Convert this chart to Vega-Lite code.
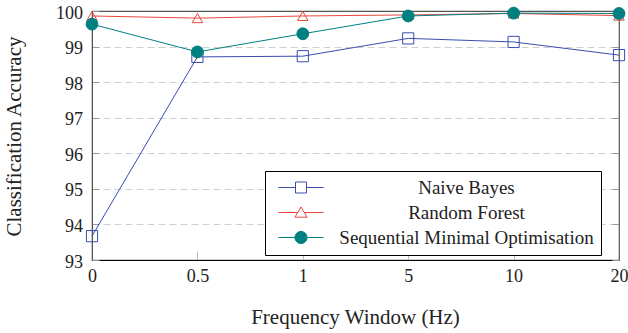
{
  "$schema": "https://vega.github.io/schema/vega-lite/v6.json",
  "width": 527,
  "height": 249,
  "autosize": {"type": "none"},
  "padding": {"left": 92, "top": 11, "right": 9, "bottom": 73},
  "background": "white",
  "config": {
    "font": "Liberation Serif",
    "view": {"stroke": "#555", "strokeWidth": 1.2},
    "axis": {
      "labelFont": "Liberation Serif",
      "titleFont": "Liberation Serif",
      "labelColor": "#222",
      "titleColor": "#222",
      "titleFontWeight": "normal",
      "labelFontSize": 18,
      "titleFontSize": 21
    }
  },
  "data": {
    "values": [
      {"window": "0", "classifier": "Naive Bayes", "accuracy": 93.67},
      {"window": "0.5", "classifier": "Naive Bayes", "accuracy": 98.71},
      {"window": "1", "classifier": "Naive Bayes", "accuracy": 98.73},
      {"window": "5", "classifier": "Naive Bayes", "accuracy": 99.23},
      {"window": "10", "classifier": "Naive Bayes", "accuracy": 99.13},
      {"window": "20", "classifier": "Naive Bayes", "accuracy": 98.76},
      {"window": "0", "classifier": "Random Forest", "accuracy": 99.86},
      {"window": "0.5", "classifier": "Random Forest", "accuracy": 99.8},
      {"window": "1", "classifier": "Random Forest", "accuracy": 99.86},
      {"window": "5", "classifier": "Random Forest", "accuracy": 99.89},
      {"window": "10", "classifier": "Random Forest", "accuracy": 99.93},
      {"window": "20", "classifier": "Random Forest", "accuracy": 99.87},
      {"window": "0", "classifier": "Sequential Minimal Optimisation", "accuracy": 99.63},
      {"window": "0.5", "classifier": "Sequential Minimal Optimisation", "accuracy": 98.85},
      {"window": "1", "classifier": "Sequential Minimal Optimisation", "accuracy": 99.36},
      {"window": "5", "classifier": "Sequential Minimal Optimisation", "accuracy": 99.86},
      {"window": "10", "classifier": "Sequential Minimal Optimisation", "accuracy": 99.94},
      {"window": "20", "classifier": "Sequential Minimal Optimisation", "accuracy": 99.93}
    ]
  },
  "encoding": {
    "x": {
      "field": "window",
      "type": "ordinal",
      "sort": ["0", "0.5", "1", "5", "10", "20"],
      "scale": {"type": "point", "padding": 0},
      "axis": {
        "title": "Frequency Window (Hz)",
        "labelAngle": 0,
        "domainColor": "#000",
        "tickColor": "#bbb",
        "tickSize": -9,
        "labelPadding": 16,
        "titleX": 263,
        "titleY": 63,
        "titleBaseline": "alphabetic",
        "titleAlign": "center",
        "grid": false
      }
    },
    "y": {
      "field": "accuracy",
      "type": "quantitative",
      "scale": {"domain": [93, 100], "nice": false, "zero": false}
    },
    "color": {
      "field": "classifier",
      "type": "nominal",
      "scale": {
        "domain": ["Naive Bayes", "Random Forest", "Sequential Minimal Optimisation"],
        "range": ["#3b4cb0", "#e8473d", "#008080"]
      },
      "legend": {
        "title": null,
        "orient": "none",
        "legendX": 173,
        "legendY": 160,
        "direction": "vertical",
        "padding": 7,
        "strokeColor": "#000",
        "fillColor": "white",
        "cornerRadius": 0,
        "symbolSize": 121,
        "symbolOffset": 19.5,
        "symbolStrokeWidth": 1,
        "labelFont": "Liberation Serif",
        "labelFontSize": 19,
        "labelColor": "#222",
        "labelAlign": "center",
        "labelOffset": 156,
        "labelLimit": 400,
        "rowPadding": 5,
        "encode": {
          "symbols": {
            "update": {
              "shape": {"signal": "datum.value === 'Naive Bayes' ? 'M-4.1,0H-1M1,0H4.1M-1,-1H1V1H-1Z' : datum.value === 'Random Forest' ? 'M-4.1,0H-0.6M0.6,0H4.1M0,-1L1.1,0.85H-1.1Z' : 'M-4.1,0H4.1M1.1,0A1.1,1.1 0 1,1 -1.1,0A1.1,1.1 0 1,1 1.1,0Z'"},
              "fill": {"signal": "datum.value === 'Sequential Minimal Optimisation' ? '#008080' : 'transparent'"},
              "strokeWidth": {"value": 1},
              "opacity": {"value": 1}
            }
          }
        }
      }
    }
  },
  "layer": [
    {
      "mark": {"type": "line", "strokeWidth": 1},
      "encoding": {
        "y": {
          "field": "accuracy",
          "type": "quantitative",
          "axis": {
            "title": "Classification Accuracy",
            "values": [93, 94, 95, 96, 97, 98, 99, 100],
            "domainColor": "#555",
            "tickColor": "#999",
            "tickSize": -7,
            "labelPadding": 16.5,
            "labelOffset": 2,
            "titleX": -72,
            "titleY": 125,
            "titleAngle": -90,
            "titleAlign": "center",
            "titleBaseline": "alphabetic",
            "grid": true,
            "gridColor": {"condition": {"test": "datum.value === 100 || datum.value === 93", "value": "transparent"}, "value": "#cfcfcf"},
            "gridDash": [7, 4]
          }
        }
      }
    },
    {
      "transform": [{"filter": {"field": "classifier", "equal": "Naive Bayes"}}],
      "mark": {"type": "point", "shape": "square", "size": 125, "strokeWidth": 1, "filled": false, "opacity": 1},
      "encoding": {
        "y": {
          "field": "accuracy",
          "type": "quantitative",
          "axis": {
            "orient": "right",
            "title": null,
            "labels": false,
            "values": [93, 94, 95, 96, 97, 98, 99, 100],
            "domainColor": "#666",
            "tickColor": "#999",
            "tickSize": -7,
            "grid": false
          }
        }
      }
    },
    {
      "transform": [{"filter": {"field": "classifier", "equal": "Random Forest"}}],
      "mark": {"type": "point", "shape": "triangle-up", "size": 110, "strokeWidth": 1, "filled": false, "opacity": 1},
      "encoding": {
        "y": {"field": "accuracy", "type": "quantitative", "axis": null}
      }
    },
    {
      "transform": [{"filter": {"field": "classifier", "equal": "Sequential Minimal Optimisation"}}],
      "mark": {"type": "point", "shape": "circle", "size": 140, "strokeWidth": 1, "filled": false, "fill": "#008080", "fillOpacity": 1, "opacity": 1},
      "encoding": {
        "y": {"field": "accuracy", "type": "quantitative", "axis": null}
      }
    }
  ],
  "resolve": {"axis": {"y": "independent"}}
}
